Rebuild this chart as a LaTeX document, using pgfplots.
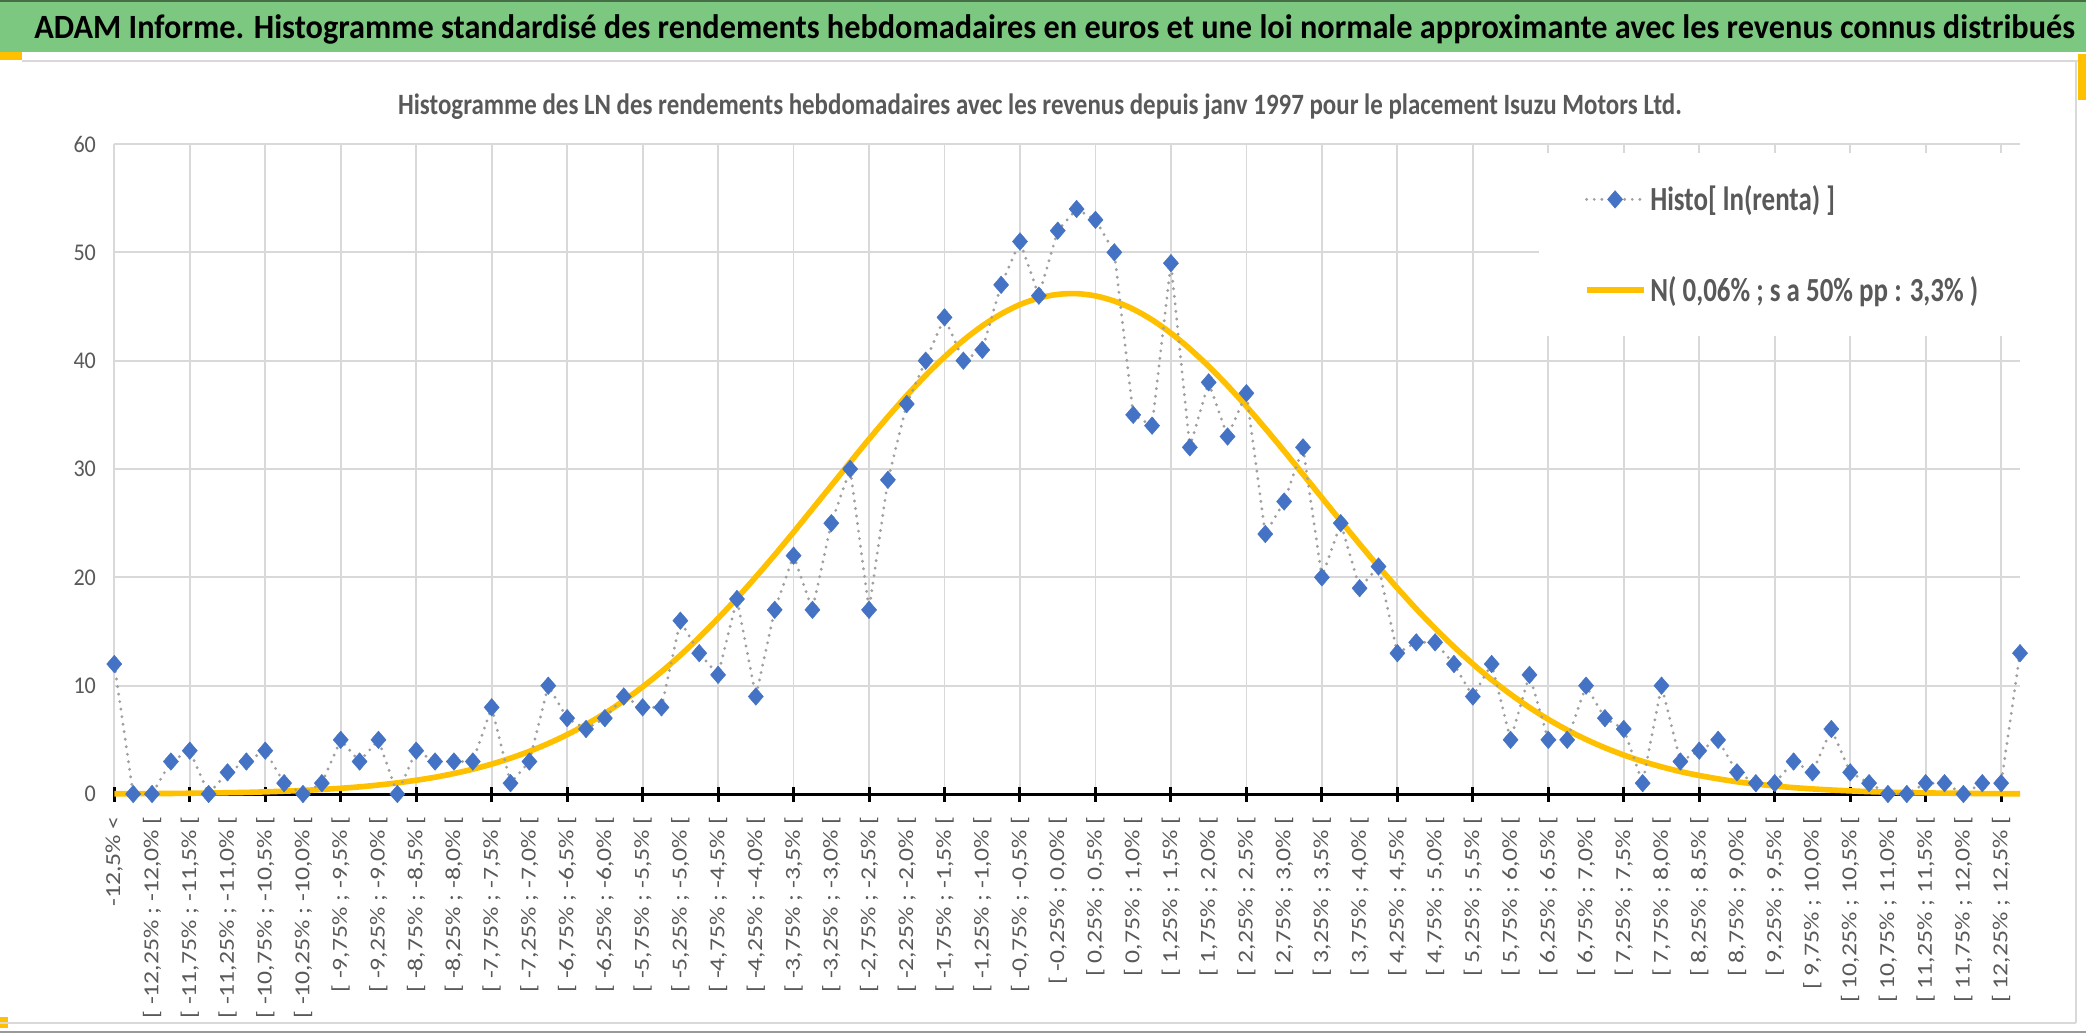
\documentclass[border=0pt]{standalone}
\usepackage{pgfplots}
\usepackage{pgfplotstable}
\pgfplotsset{compat=1.18}
\usepackage{fontspec}
\setmainfont{Carlito}
\newfontfamily\ftitle[FakeStretch=0.95]{Carlito}
\newfontfamily\fsub[FakeStretch=0.845]{Carlito}
\newfontfamily\fleg[FakeStretch=0.8]{Carlito}
\newfontfamily\fyt[FakeStretch=0.92]{Carlito}
\newfontfamily\fxt[FakeStretch=1.2]{Carlito}
\definecolor{tgreen}{RGB}{125,200,128}
\definecolor{tgold}{RGB}{255,192,0}
\definecolor{tblue}{RGB}{68,114,196}
\definecolor{tgray}{RGB}{89,89,89}
\definecolor{gridc}{RGB}{217,217,217}
\definecolor{dotc}{RGB}{160,160,160}
\newcommand\lb[2]{{}[ #1\% ; #2\% [}

\pgfplotstableread{
x y
0 12
1 0
2 0
3 3
4 4
5 0
6 2
7 3
8 4
9 1
10 0
11 1
12 5
13 3
14 5
15 0
16 4
17 3
18 3
19 3
20 8
21 1
22 3
23 10
24 7
25 6
26 7
27 9
28 8
29 8
30 16
31 13
32 11
33 18
34 9
35 17
36 22
37 17
38 25
39 30
40 17
41 29
42 36
43 40
44 44
45 40
46 41
47 47
48 51
49 46
50 52
51 54
52 53
53 50
54 35
55 34
56 49
57 32
58 38
59 33
60 37
61 24
62 27
63 32
64 20
65 25
66 19
67 21
68 13
69 14
70 14
71 12
72 9
73 12
74 5
75 11
76 5
77 5
78 10
79 7
80 6
81 1
82 10
83 3
84 4
85 5
86 2
87 1
88 1
89 3
90 2
91 6
92 2
93 1
94 0
95 0
96 1
97 1
98 0
99 1
100 1
101 13
}\histo

\pgfplotstableread{
x y
0 0.02
1 0.03
2 0.04
3 0.05
4 0.07
5 0.09
6 0.12
7 0.15
8 0.20
9 0.26
10 0.33
11 0.42
12 0.53
13 0.66
14 0.83
15 1.03
16 1.27
17 1.55
18 1.89
19 2.29
20 2.76
21 3.31
22 3.94
23 4.66
24 5.48
25 6.41
26 7.45
27 8.61
28 9.89
29 11.29
30 12.81
31 14.46
32 16.22
33 18.08
34 20.04
35 22.07
36 24.17
37 26.32
38 28.47
39 30.63
40 32.76
41 34.82
42 36.79
43 38.64
44 40.35
45 41.88
46 43.21
47 44.31
48 45.18
49 45.78
50 46.12
51 46.19
52 45.98
53 45.50
54 44.76
55 43.77
56 42.54
57 41.10
58 39.48
59 37.70
60 35.78
61 33.75
62 31.66
63 29.51
64 27.35
65 25.20
66 23.07
67 21.00
68 19.01
69 17.09
70 15.29
71 13.59
72 12.01
73 10.54
74 9.21
75 7.99
76 6.89
77 5.91
78 5.04
79 4.27
80 3.60
81 3.01
82 2.51
83 2.07
84 1.71
85 1.40
86 1.13
87 0.92
88 0.74
89 0.59
90 0.47
91 0.37
92 0.29
93 0.22
94 0.17
95 0.13
96 0.10
97 0.08
98 0.06
99 0.04
100 0.03
101 0.02
}\normale

\begin{document}
\begin{tikzpicture}[x=1pt,y=1pt]
\useasboundingbox (0,0) rectangle (1043,-516.5);
\fill[white] (0,0) rectangle (1043,-516.5);
% title bar
\fill[tgreen] (0,-1) rectangle (1043,-26);
\draw[black!45!tgreen, line width=1pt] (0,-0.5) -- (1043,-0.5);
\fill[tgold] (0,-26) rectangle (11,-30);
\draw[gridc, line width=1pt] (11,-30.5) -- (1043,-30.5);
\fill[tgold] (1039,-27) rectangle (1043,-50);
\fill[tgold] (0,-508.5) rectangle (4,-514);
\draw[gridc, line width=1pt] (1038,-30.5) -- (1038,-511.5);
\draw[gridc, line width=1pt] (0,-511.5) -- (1038,-511.5);
\draw[black!40, line width=1pt] (0,-516) -- (1043,-516);
\node[anchor=base west, inner sep=0pt] at (17,-19.5)
  {\ftitle\bfseries\fontsize{17}{20}\selectfont ADAM Informe. Histogramme standardisé des rendements hebdomadaires en euros et une loi normale approximante avec les revenus connus distribués};
\node[anchor=base, inner sep=0pt, text=tgray] at (520,-57)
  {\fsub\bfseries\fontsize{14.75}{17}\selectfont Histogramme des LN des rendements hebdomadaires avec les revenus depuis janv 1997 pour le placement Isuzu Motors Ltd.};
\begin{axis}[
  at={(57.15pt,-397pt)}, anchor=south west,
  scale only axis, width=952.85pt, height=325pt,
  xmin=0, xmax=101, ymin=0, ymax=60,
  clip=false,
  axis lines*=left,
  x axis line style={black, line width=1.5pt},
  y axis line style={draw=none},
  tick align=inside,
  major tick length=0pt,
  tick style={black, line width=1.5pt},
  /pgf/number format/assume math mode=true,
  ytick={0,10,...,60},
  ymajorgrids,
  major grid style={gridc, line width=0.9pt},
  yticklabel style={font=\fyt\fontsize{12}{14}\selectfont, text=tgray, anchor=east, inner sep=0pt},
  yticklabel shift=9pt,
  xtick={0,2,...,100},
  xticklabels={
    {-12,5\% <},{\lb{-12,25}{-12,0}},{\lb{-11,75}{-11,5}},{\lb{-11,25}{-11,0}},
    {\lb{-10,75}{-10,5}},{\lb{-10,25}{-10,0}},{\lb{-9,75}{-9,5}},{\lb{-9,25}{-9,0}},
    {\lb{-8,75}{-8,5}},{\lb{-8,25}{-8,0}},{\lb{-7,75}{-7,5}},{\lb{-7,25}{-7,0}},
    {\lb{-6,75}{-6,5}},{\lb{-6,25}{-6,0}},{\lb{-5,75}{-5,5}},{\lb{-5,25}{-5,0}},
    {\lb{-4,75}{-4,5}},{\lb{-4,25}{-4,0}},{\lb{-3,75}{-3,5}},{\lb{-3,25}{-3,0}},
    {\lb{-2,75}{-2,5}},{\lb{-2,25}{-2,0}},{\lb{-1,75}{-1,5}},{\lb{-1,25}{-1,0}},
    {\lb{-0,75}{-0,5}},{\lb{-0,25}{0,0}},{\lb{0,25}{0,5}},{\lb{0,75}{1,0}},
    {\lb{1,25}{1,5}},{\lb{1,75}{2,0}},{\lb{2,25}{2,5}},{\lb{2,75}{3,0}},
    {\lb{3,25}{3,5}},{\lb{3,75}{4,0}},{\lb{4,25}{4,5}},{\lb{4,75}{5,0}},
    {\lb{5,25}{5,5}},{\lb{5,75}{6,0}},{\lb{6,25}{6,5}},{\lb{6,75}{7,0}},
    {\lb{7,25}{7,5}},{\lb{7,75}{8,0}},{\lb{8,25}{8,5}},{\lb{8,75}{9,0}},
    {\lb{9,25}{9,5}},{\lb{9,75}{10,0}},{\lb{10,25}{10,5}},{\lb{10,75}{11,0}},
    {\lb{11,25}{11,5}},{\lb{11,75}{12,0}},{\lb{12,25}{12,5}}},
  xticklabel style={font=\fxt\fontsize{10.7}{12}\selectfont, text=tgray, rotate=90, anchor=east, inner sep=0pt},
  xticklabel shift=11pt,
  extra x ticks={0,4,...,100},
  extra x tick labels={},
  extra x tick style={xmajorgrids=true, major tick length=7.5pt, tick align=center},
  legend style={at={(0.7473,0.9862)}, anchor=north west, draw=none, fill=white,
    inner xsep=22.5pt, inner ysep=14pt, row sep=27.4pt,
    nodes={inner sep=2pt, text=tgray},
    font=\fleg\bfseries\fontsize{16.85}{20}\selectfont},
  legend cell align=left,
  legend image code/.code={\draw[mark repeat=2,mark phase=2,#1] plot coordinates {(0cm,0cm) (0.5cm,0cm) (1cm,0cm)};},
  reverse legend,
]
\addplot[tgold, line width=2.8pt, smooth, no markers] table {\normale};
\addlegendentry{N( 0,06\% ; s a 50\% pp : 3,3\% )}
\addplot[dotc, line width=1.6pt, line cap=round, dash pattern=on 0pt off 3.8pt,
  mark=diamond*, mark size=4.4pt,
  mark options={solid, fill=tblue, draw=tblue, line width=0.2pt, xscale=1.15}] table {\histo};
\addlegendentry{Histo[ ln(renta) ]}
\end{axis}
\end{tikzpicture}
\end{document}
